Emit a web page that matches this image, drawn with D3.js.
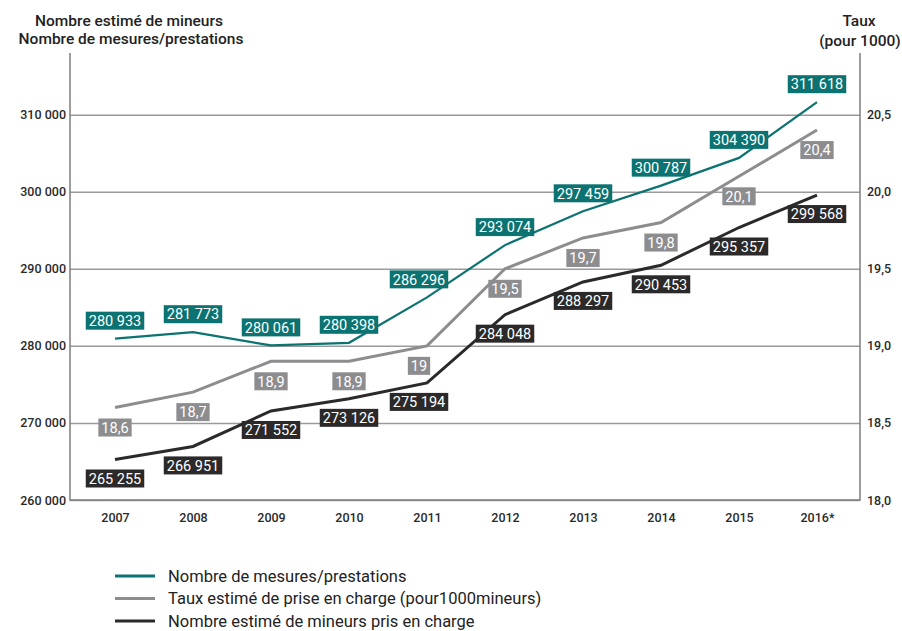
<!DOCTYPE html>
<html>
<head>
<meta charset="utf-8">
<script src="https://cdn.jsdelivr.net/npm/d3@7"></script>
<style>
      body { margin: 0; background: #fff; }
      text { font-family: Roboto, 'Noto Sans', sans-serif; }
</style>
</head>
<body>
<svg id="chart"></svg>
<script>
const years = ['2007', '2008', '2009', '2010', '2011', '2012', '2013', '2014', '2015', '2016*'];
const mesures = [280933, 281773, 280061, 280398, 286296, 293074, 297459, 300787, 304390, 311618];
const taux = [18.6, 18.7, 18.9, 18.9, 19, 19.5, 19.7, 19.8, 20.1, 20.4];
const mineurs = [265255, 266951, 271552, 273126, 275194, 284048, 288297, 290453, 295357, 299568];
const leftTicks = [260000, 270000, 280000, 290000, 300000, 310000];
const rightTicks = [18.0, 18.5, 19.0, 19.5, 20.0, 20.5];
const legendLabels = ['Nombre de mesures/prestations', 'Taux estimé de prise en charge (pour1000mineurs)', 'Nombre estimé de mineurs pris en charge'];

class DualLineChart{

      constructor(config){
            this.config = {
                  parent: config.parent,
                  width: config.width || 902,
                  height: config.height || 631,
                  left: 70, right: 860, top: 53, bottom: 500
            }
            this.init();
      }

      init(){
            let self = this;
            const c = self.config;

            self.svg = d3.select(c.parent)
                  .attr('width', c.width)
                  .attr('height', c.height);

            self.xscale = d3.scalePoint()
                  .domain(years)
                  .range([115, 817]);

            self.yscale = d3.scaleLinear()
                  .domain([260000, 318000])
                  .range([c.bottom, c.top]);

            self.rscale = d3.scaleLinear()
                  .domain([18, 20.9])
                  .range([c.bottom, c.top]);

            self.colors = { mesures: '#0b7371', taux: '#8d8d90', mineurs: '#2b2929' };
      }

      render(){
            let self = this;
            const c = self.config;
            const fmt = v => d3.format(',')(v).replace(/,/g, ' ');
            const fmtRate = v => String(v).replace('.', ',');

            // grid + left axis
            self.svg.append('g')
                  .attr('transform', `translate(${c.left}, 0)`)
                  .call(d3.axisLeft(self.yscale)
                        .tickValues(leftTicks)
                        .tickSize(-(c.right - c.left))
                        .tickPadding(4)
                        .tickFormat(fmt))
                  .call(g => g.select('.domain').remove())
                  .call(g => g.selectAll('.tick line').attr('stroke', '#9a9a9a').attr('stroke-width', 1.5))
                  .call(g => g.selectAll('.tick text')
                        .attr('fill', '#2a2a2a')
                        .style('font-size', '12.5px')
                        .style('font-weight', 500));

            // right axis labels
            self.svg.append('g')
                  .attr('transform', `translate(${c.right}, 0)`)
                  .call(d3.axisRight(self.rscale)
                        .tickValues(rightTicks)
                        .tickSize(0)
                        .tickPadding(7)
                        .tickFormat(d => d3.format('.1f')(d).replace('.', ',')))
                  .call(g => g.select('.domain').remove())
                  .call(g => g.selectAll('.tick text')
                        .attr('fill', '#2a2a2a')
                        .style('font-size', '12.5px')
                        .style('font-weight', 500));

            // frame: two vertical axes and bottom
            self.svg.append('path')
                  .attr('d', `M${c.left},${c.top}V${c.bottom}H${c.right}V${c.top}`)
                  .attr('fill', 'none')
                  .attr('stroke', '#7d7d7d')
                  .attr('stroke-width', 1.5);

            // x labels
            self.svg.append('g')
                  .attr('transform', `translate(0, ${c.bottom})`)
                  .call(d3.axisBottom(self.xscale).tickSize(0).tickPadding(13))
                  .call(g => g.select('.domain').remove())
                  .call(g => g.selectAll('.tick text')
                        .attr('fill', '#2a2a2a')
                        .style('font-size', '12.5px')
                        .style('font-weight', 500));

            // titles
            const titles = self.svg.append('g')
                  .style('font-size', '15.5px')
                  .style('font-weight', 500)
                  .attr('fill', '#222')
                  .attr('text-anchor', 'middle');
            titles.append('text').attr('x', 129).attr('y', 26).text('Nombre estimé de mineurs');
            titles.append('text').attr('x', 131).attr('y', 44).text('Nombre de mesures/prestations');
            titles.append('text').attr('x', 859).attr('y', 26).text('Taux');
            titles.append('text').attr('x', 860).attr('y', 46).text('(pour 1000)');

            const series = [
                  { key: 'mesures', values: mesures, scale: self.yscale, width: 2.2, dy: -18, label: fmt },
                  { key: 'taux', values: taux, scale: self.rscale, width: 3, dy: 20, label: fmtRate },
                  { key: 'mineurs', values: mineurs, scale: self.yscale, width: 3, dy: 19, label: fmt }
            ];

            const line = (s) => d3.line()
                  .x((d, i) => self.xscale(years[i]))
                  .y(d => s.scale(d));

            series.forEach(s => {
                  self.svg.append('path')
                        .datum(s.values)
                        .attr('fill', 'none')
                        .attr('stroke', self.colors[s.key])
                        .attr('stroke-width', s.width)
                        .attr('d', line(s));
            });

            series.forEach(s => {
                  const g = self.svg.selectAll(null)
                        .data(s.values)
                        .join('g')
                        .attr('transform', (d, i) => `translate(${self.xscale(years[i]) + (i == 4 ? -8 : 0)}, ${s.scale(d) + s.dy})`);

                  g.append('rect')
                        .attr('fill', self.colors[s.key]);

                  g.append('text')
                        .attr('text-anchor', 'middle')
                        .attr('dy', '0.36em')
                        .attr('fill', '#fff')
                        .style('font-size', '14.5px')
                        .text(d => s.label(d));

                  g.each(function(){
                        const bb = d3.select(this).select('text').node().getBBox();
                        d3.select(this).select('rect')
                              .attr('x', -bb.width / 2 - 3)
                              .attr('y', -9)
                              .attr('width', bb.width + 6)
                              .attr('height', 18);
                  });
            });

            // legend
            const lg = self.svg.append('g')
                  .selectAll('g')
                  .data(legendLabels)
                  .join('g')
                  .attr('transform', (d, i) => `translate(115, ${576 + i * 22.5})`);
            lg.append('line')
                  .attr('x1', 0).attr('x2', 40)
                  .attr('stroke', (d, i) => self.colors[series[i].key])
                  .attr('stroke-width', 3);
            lg.append('text')
                  .attr('x', 53)
                  .attr('dy', '0.35em')
                  .attr('fill', '#222')
                  .style('font-size', '16.5px')
                  .text(d => d);
      }
}

const chart = new DualLineChart({ parent: '#chart', width: 902, height: 631 });
chart.render();
</script>
</body>
</html>
